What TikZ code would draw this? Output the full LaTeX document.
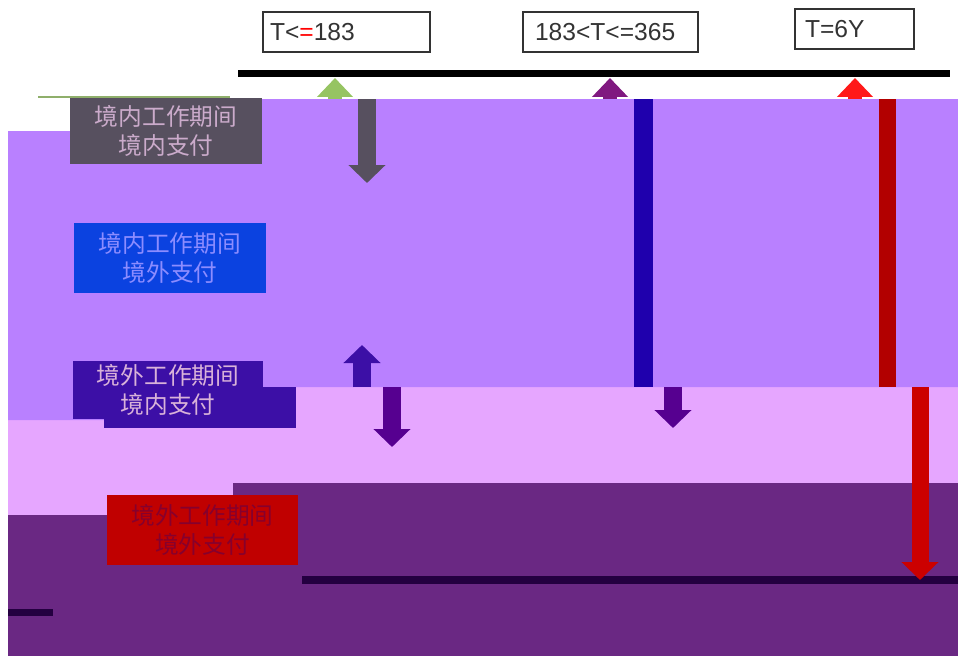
\documentclass[tikz,border=0pt]{standalone}
\usepackage{fontspec}
\setmainfont{Liberation Sans}
\newfontfamily\cjk{Noto Sans CJK SC}
\usepackage{tikz}
\usetikzlibrary{arrows.meta}

\definecolor{lilacbg}{HTML}{B980FF}
\definecolor{pinkbg}{HTML}{E6A6FF}
\definecolor{plumbg}{HTML}{6A2883}
\definecolor{greybox}{HTML}{57505F}
\definecolor{bluebox}{HTML}{0B42E0}
\definecolor{indigobox}{HTML}{3C0FA6}
\definecolor{redbox}{HTML}{C00000}
\definecolor{inkline}{HTML}{240040}
\definecolor{leafup}{HTML}{96C462}

\tikzset{
  lab/.style={draw=black!80, line width=0.04cm, font=\fontsize{14}{16}\selectfont,
    text=black!80, align=left, minimum height=0.8cm},
  cnbox/.style={inner sep=0pt, align=center, minimum width=3.84cm,
    font=\cjk\fontsize{13.5}{16.5}\selectfont},
  blockarrow/.style={-{Triangle[width=0.72cm,length=0.36cm]}, line width=0.36cm},
  tinyarrow/.style={-{Triangle[width=0.7cm,length=0.38cm]}, line width=0.28cm},
  bar/.style={line width=0.36cm}
}

\begin{document}
\begin{tikzpicture}[x=0.02cm,y=-0.02cm]
      \useasboundingbox (0,0) rectangle (958,656);

      % bands
      \fill[plumbg] (8,483) rectangle (958,656);
      \fill[pinkbg] (8,387) rectangle (958,483);
      \fill[pinkbg] (8,483) rectangle (233,515);
      \fill[lilacbg] (8,131) -- (70,131) -- (70,99) -- (958,99) -- (958,387)
        -- (104,387) -- (104,420) -- (8,420) -- cycle;
      \draw[leafup!70!gray, line width=0.04cm] (38,97) -- (230,97);

      % labels on the time line
      \node[lab, text width=3.06cm, inner xsep=0.14cm] (tshort) at (346.5,32)
        {T<{\color{red}=}183};
      \node[lab, text width=3.02cm, inner xsep=0.24cm] (tmid) at (610.5,32)
        {183<T<=365};
      \node[lab, text width=1.98cm, inner xsep=0.2cm] (tlong) at (854.5,29)
        {T=6Y};

      \coordinate (timeL) at (238,73.5);
      \coordinate (timeR) at (950,73.5);
      \draw[black, line width=0.14cm] (timeL) -- (timeR);

      % the four cases
      \node[cnbox, fill=greybox, text=violet!30!white!85!gray, minimum height=1.32cm]
        (inin) at (166,131) {境内工作期间\\境内支付};
      \node[cnbox, fill=bluebox, text=blue!45!white, minimum height=1.4cm]
        (inout) at (170,258) {境内工作期间\\境外支付};
      \fill[indigobox] (104,387) rectangle (296,428);
      \node[cnbox, fill=indigobox, text=violet!30!white, minimum width=3.8cm,
        minimum height=1.16cm] (outin) at (168,390) {境外工作期间\\境内支付};
      \node[cnbox, fill=redbox, text=purple!70!black, minimum width=3.82cm,
        minimum height=1.4cm] (outout) at (202.5,530) {境外工作期间\\境外支付};

      \coordinate (baseL) at (302,580);
      \coordinate (baseR) at (958,580);
      \draw[inkline, line width=0.16cm] (baseL) -- (baseR);
      \coordinate (stubL) at (8,612);
      \coordinate (stubR) at (53,612);
      \draw[inkline, line width=0.14cm] (stubL) -- (stubR);

      % arrows up to the time line
      \foreach \x/\c/\n in {335/leafup/a, 610/violet!80!gray/b, 855/red!90!white/c}{
        \coordinate (up\n) at (\x,99);
        \coordinate (tip\n) at (\x,78);
        \draw[tinyarrow, \c] (up\n) -- (tip\n);
      }

      % arrows in the bands
      \coordinate (g1) at (367,99);  \coordinate (g2) at (367,183);
      \draw[blockarrow, greybox] (g1) -- (g2);
      \coordinate (u1) at (362,387); \coordinate (u2) at (362,345);
      \draw[blockarrow, indigobox] (u1) -- (u2);
      \coordinate (d1) at (392,387); \coordinate (d2) at (392,447);
      \draw[blockarrow, violet!75!blue!90!black] (d1) -- (d2);

      \coordinate (b1) at (643,99);  \coordinate (b2) at (643,387);
      \draw[bar, blue!70!violet!80!black, line width=0.38cm] (b1) -- (b2);
      \coordinate (m1) at (673,387); \coordinate (m2) at (673,428);
      \draw[blockarrow, violet!75!blue!90!black] (m1) -- (m2);

      \coordinate (r1) at (887,99);  \coordinate (r2) at (887,387);
      \draw[bar, red!70!black, line width=0.34cm] (r1) -- (r2);
      \coordinate (s1) at (920,387); \coordinate (s2) at (920,580);
      \draw[blockarrow, red!80!black, line width=0.34cm] (s1) -- (s2);
    \end{tikzpicture}
\end{document}
